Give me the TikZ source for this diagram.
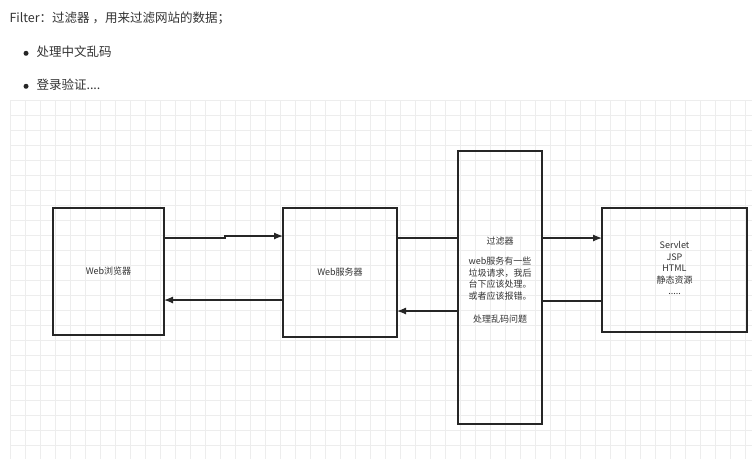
\documentclass[tikz,border=0pt]{standalone}
\usepackage{fontspec}
\usetikzlibrary{arrows.meta}
\setmainfont{Noto Sans CJK SC}
\begin{document}
\begin{tikzpicture}[x=1pt,y=-1pt,
  box/.style={draw=black!85,line width=1.2pt,inner sep=0pt},
  lbl/.style={font=\fontsize{9}{11.5}\selectfont,text=black!80,align=center},
  con/.style={line width=1.2pt,draw=black!85},
  arr/.style={con,-{Latex[length=9pt,width=7pt]}}]
\useasboundingbox (0,0) rectangle (752,459);
\fill[white] (0,0) rectangle (752,459);
\foreach \i in {0,...,49} {\draw[black!7,line width=0.5pt] (10+15*\i,100) -- (10+15*\i,459);}
\foreach \j in {0,...,23} {\draw[black!7,line width=0.5pt] (10,100+15*\j) -- (752,100+15*\j);}
\node[anchor=west,font=\fontsize{12.5}{14}\selectfont,text=black!80] (t) at (6,18) {Filter：过滤器 ，用来过滤网站的数据；};
\node[anchor=west,font=\fontsize{12.5}{14}\selectfont,text=black!80] (b1) at (20,52) {\raisebox{1pt}{\tikz\fill[black!85] circle (2.5pt);}\hspace{8pt}处理中文乱码};
\node[anchor=west,font=\fontsize{12.5}{14}\selectfont,text=black!80] (b2) at (20,85) {\raisebox{1pt}{\tikz\fill[black!85] circle (2.5pt);}\hspace{8pt}登录验证....};
\node[box,minimum width=111pt,minimum height=127pt] (br) at (108.5,271.5) {};
\node[lbl] at (br) {Web浏览器};
\node[box,minimum width=114pt,minimum height=129pt] (ws) at (340,272.5) {};
\node[lbl] at (ws) {Web服务器};
\node[box,minimum width=84pt,minimum height=273pt] (fi) at (500,287.5) {};
\node[lbl,anchor=north] at (500,233) {过滤器\\[9pt]web服务有一些\\垃圾请求，我后\\台下应该处理。\\或者应该报错。\\[12pt]处理乱码问题};
\node[box,minimum width=145pt,minimum height=124pt] (sv) at (674.5,270) {};
\node[lbl] at (674.5,268) {Servlet\\JSP\\HTML\\静态资源\\.....};
\draw[arr] (164,238) -- (225,238) -- (225,236) -- (283,236);
\draw[con] (397,238) -- (458,238);
\draw[arr] (542,238) -- (602,238);
\draw[con] (602,301) -- (542,301);
\draw[arr] (458,311) -- (397,311);
\draw[arr] (283,300) -- (164,300);
\end{tikzpicture}
\end{document}
